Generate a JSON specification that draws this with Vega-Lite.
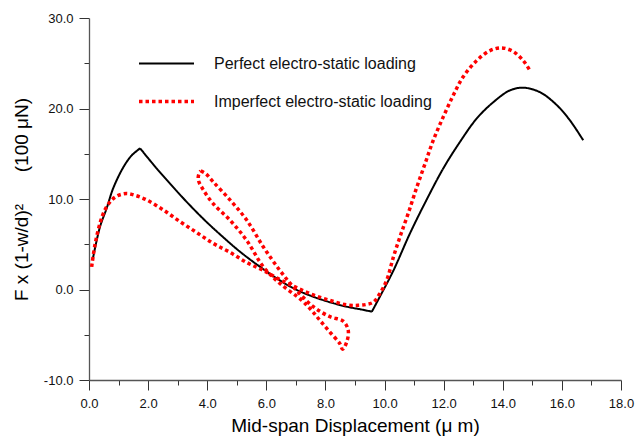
{
  "$schema": "https://vega.github.io/schema/vega-lite/v6.json",
  "width": 532,
  "height": 362,
  "autosize": {"type": "none"},
  "padding": {"left": 89, "top": 18, "right": 14, "bottom": 59},
  "background": "white",
  "config": {
    "view": {"stroke": null},
    "font": "Liberation Sans",
    "legend": {
      "orient": "none",
      "legendX": 48,
      "legendY": 17,
      "padding": 0,
      "symbolType": "stroke",
      "symbolSize": 3025,
      "labelFontSize": 16,
      "labelFont": "Liberation Sans",
      "labelColor": "#111111",
      "labelOffset": 18,
      "rowPadding": -2,
      "labelLimit": 400
    }
  },
  "datasets": {
    "curves": [
      {"series": "Perfect electro-static loading", "seg": "p1", "o": 1, "x": 0.13, "y": 3.4},
      {"series": "Perfect electro-static loading", "seg": "p1", "o": 2, "x": 0.37, "y": 6.9},
      {"series": "Perfect electro-static loading", "seg": "p1", "o": 3, "x": 0.6, "y": 9.0},
      {"series": "Perfect electro-static loading", "seg": "p1", "o": 4, "x": 0.82, "y": 11.2},
      {"series": "Perfect electro-static loading", "seg": "p1", "o": 5, "x": 1.16, "y": 13.5},
      {"series": "Perfect electro-static loading", "seg": "p1", "o": 6, "x": 1.44, "y": 14.8},
      {"series": "Perfect electro-static loading", "seg": "p1", "o": 7, "x": 1.73, "y": 15.6},
      {"series": "Perfect electro-static loading", "seg": "p2", "o": 7, "x": 1.73, "y": 15.6},
      {"series": "Perfect electro-static loading", "seg": "p2", "o": 8, "x": 2.18, "y": 13.8},
      {"series": "Perfect electro-static loading", "seg": "p2", "o": 9, "x": 2.74, "y": 11.7},
      {"series": "Perfect electro-static loading", "seg": "p2", "o": 10, "x": 3.3, "y": 9.7},
      {"series": "Perfect electro-static loading", "seg": "p2", "o": 11, "x": 3.87, "y": 7.8},
      {"series": "Perfect electro-static loading", "seg": "p2", "o": 12, "x": 4.43, "y": 6.1},
      {"series": "Perfect electro-static loading", "seg": "p2", "o": 13, "x": 5.1, "y": 4.2},
      {"series": "Perfect electro-static loading", "seg": "p2", "o": 14, "x": 5.79, "y": 2.5},
      {"series": "Perfect electro-static loading", "seg": "p2", "o": 15, "x": 6.46, "y": 1.0},
      {"series": "Perfect electro-static loading", "seg": "p2", "o": 16, "x": 7.0, "y": 0.0},
      {"series": "Perfect electro-static loading", "seg": "p2", "o": 17, "x": 7.59, "y": -0.8},
      {"series": "Perfect electro-static loading", "seg": "p2", "o": 18, "x": 8.15, "y": -1.4},
      {"series": "Perfect electro-static loading", "seg": "p2", "o": 19, "x": 8.72, "y": -1.9},
      {"series": "Perfect electro-static loading", "seg": "p2", "o": 20, "x": 9.2, "y": -2.2},
      {"series": "Perfect electro-static loading", "seg": "p2", "o": 21, "x": 9.57, "y": -2.45},
      {"series": "Perfect electro-static loading", "seg": "p3", "o": 21, "x": 9.57, "y": -2.45},
      {"series": "Perfect electro-static loading", "seg": "p3", "o": 22, "x": 9.84, "y": -0.8},
      {"series": "Perfect electro-static loading", "seg": "p3", "o": 23, "x": 10.3, "y": 2.1},
      {"series": "Perfect electro-static loading", "seg": "p3", "o": 24, "x": 10.86, "y": 6.2},
      {"series": "Perfect electro-static loading", "seg": "p3", "o": 25, "x": 11.42, "y": 9.9},
      {"series": "Perfect electro-static loading", "seg": "p3", "o": 26, "x": 11.99, "y": 13.4},
      {"series": "Perfect electro-static loading", "seg": "p3", "o": 27, "x": 12.55, "y": 16.3},
      {"series": "Perfect electro-static loading", "seg": "p3", "o": 28, "x": 13.12, "y": 18.9},
      {"series": "Perfect electro-static loading", "seg": "p3", "o": 29, "x": 13.68, "y": 20.7},
      {"series": "Perfect electro-static loading", "seg": "p3", "o": 30, "x": 14.24, "y": 22.0},
      {"series": "Perfect electro-static loading", "seg": "p3", "o": 31, "x": 14.69, "y": 22.3},
      {"series": "Perfect electro-static loading", "seg": "p3", "o": 32, "x": 15.26, "y": 21.8},
      {"series": "Perfect electro-static loading", "seg": "p3", "o": 33, "x": 15.82, "y": 20.4},
      {"series": "Perfect electro-static loading", "seg": "p3", "o": 34, "x": 16.27, "y": 18.7},
      {"series": "Perfect electro-static loading", "seg": "p3", "o": 35, "x": 16.72, "y": 16.5},

      {"series": "Imperfect electro-static loading", "seg": "a", "o": 1, "x": 0.09, "y": 2.5},
      {"series": "Imperfect electro-static loading", "seg": "a", "o": 2, "x": 0.2, "y": 4.9},
      {"series": "Imperfect electro-static loading", "seg": "a", "o": 3, "x": 0.37, "y": 7.3},
      {"series": "Imperfect electro-static loading", "seg": "a", "o": 4, "x": 0.54, "y": 8.8},
      {"series": "Imperfect electro-static loading", "seg": "a", "o": 5, "x": 0.77, "y": 9.9},
      {"series": "Imperfect electro-static loading", "seg": "a", "o": 6, "x": 0.99, "y": 10.4},
      {"series": "Imperfect electro-static loading", "seg": "a", "o": 7, "x": 1.27, "y": 10.6},
      {"series": "Imperfect electro-static loading", "seg": "a", "o": 8, "x": 1.56, "y": 10.4},
      {"series": "Imperfect electro-static loading", "seg": "a", "o": 9, "x": 1.95, "y": 9.9},
      {"series": "Imperfect electro-static loading", "seg": "a", "o": 10, "x": 2.51, "y": 8.8},
      {"series": "Imperfect electro-static loading", "seg": "a", "o": 11, "x": 3.08, "y": 7.5},
      {"series": "Imperfect electro-static loading", "seg": "a", "o": 12, "x": 3.64, "y": 6.3},
      {"series": "Imperfect electro-static loading", "seg": "a", "o": 13, "x": 4.2, "y": 5.1},
      {"series": "Imperfect electro-static loading", "seg": "a", "o": 14, "x": 4.77, "y": 4.1},
      {"series": "Imperfect electro-static loading", "seg": "a", "o": 15, "x": 5.33, "y": 3.0},
      {"series": "Imperfect electro-static loading", "seg": "a", "o": 16, "x": 5.9, "y": 2.1},
      {"series": "Imperfect electro-static loading", "seg": "a", "o": 17, "x": 6.46, "y": 1.1},
      {"series": "Imperfect electro-static loading", "seg": "a", "o": 18, "x": 7.03, "y": 0.2},
      {"series": "Imperfect electro-static loading", "seg": "a", "o": 19, "x": 7.59, "y": -0.6},
      {"series": "Imperfect electro-static loading", "seg": "a", "o": 20, "x": 8.15, "y": -1.2},
      {"series": "Imperfect electro-static loading", "seg": "a", "o": 21, "x": 8.72, "y": -1.7},
      {"series": "Imperfect electro-static loading", "seg": "a", "o": 22, "x": 9.1, "y": -1.75},
      {"series": "Imperfect electro-static loading", "seg": "a", "o": 23, "x": 9.39, "y": -1.65},
      {"series": "Imperfect electro-static loading", "seg": "a", "o": 24, "x": 9.62, "y": -1.4},
      {"series": "Imperfect electro-static loading", "seg": "a", "o": 25, "x": 9.84, "y": -0.45},
      {"series": "Imperfect electro-static loading", "seg": "a", "o": 26, "x": 10.07, "y": 1.0},
      {"series": "Imperfect electro-static loading", "seg": "a", "o": 27, "x": 10.3, "y": 3.6},
      {"series": "Imperfect electro-static loading", "seg": "a", "o": 28, "x": 10.52, "y": 5.8},
      {"series": "Imperfect electro-static loading", "seg": "a", "o": 29, "x": 10.8, "y": 8.4},
      {"series": "Imperfect electro-static loading", "seg": "a", "o": 30, "x": 11.09, "y": 11.3},
      {"series": "Imperfect electro-static loading", "seg": "a", "o": 31, "x": 11.37, "y": 13.9},
      {"series": "Imperfect electro-static loading", "seg": "a", "o": 32, "x": 11.65, "y": 16.5},
      {"series": "Imperfect electro-static loading", "seg": "a", "o": 33, "x": 11.99, "y": 19.1},
      {"series": "Imperfect electro-static loading", "seg": "a", "o": 34, "x": 12.33, "y": 21.5},
      {"series": "Imperfect electro-static loading", "seg": "a", "o": 35, "x": 12.66, "y": 23.5},
      {"series": "Imperfect electro-static loading", "seg": "a", "o": 36, "x": 13.12, "y": 25.3},
      {"series": "Imperfect electro-static loading", "seg": "a", "o": 37, "x": 13.57, "y": 26.4},
      {"series": "Imperfect electro-static loading", "seg": "a", "o": 38, "x": 13.96, "y": 26.7},
      {"series": "Imperfect electro-static loading", "seg": "a", "o": 39, "x": 14.35, "y": 26.3},
      {"series": "Imperfect electro-static loading", "seg": "a", "o": 40, "x": 14.69, "y": 25.3},
      {"series": "Imperfect electro-static loading", "seg": "a", "o": 41, "x": 14.92, "y": 24.2},

      {"series": "Imperfect electro-static loading", "seg": "b", "o": 1, "x": 3.78, "y": 13.1},
      {"series": "Imperfect electro-static loading", "seg": "b", "o": 2, "x": 3.95, "y": 12.8},
      {"series": "Imperfect electro-static loading", "seg": "b", "o": 3, "x": 4.2, "y": 11.9},
      {"series": "Imperfect electro-static loading", "seg": "b", "o": 4, "x": 4.77, "y": 9.9},
      {"series": "Imperfect electro-static loading", "seg": "b", "o": 5, "x": 5.33, "y": 7.7},
      {"series": "Imperfect electro-static loading", "seg": "b", "o": 6, "x": 5.9, "y": 4.7},
      {"series": "Imperfect electro-static loading", "seg": "b", "o": 7, "x": 6.46, "y": 2.1},
      {"series": "Imperfect electro-static loading", "seg": "b", "o": 8, "x": 6.91, "y": 0.3},
      {"series": "Imperfect electro-static loading", "seg": "b", "o": 9, "x": 7.59, "y": -1.9},
      {"series": "Imperfect electro-static loading", "seg": "b", "o": 10, "x": 8.15, "y": -3.0},
      {"series": "Imperfect electro-static loading", "seg": "b", "o": 11, "x": 8.6, "y": -3.5},
      {"series": "Imperfect electro-static loading", "seg": "b", "o": 12, "x": 8.77, "y": -4.5},
      {"series": "Imperfect electro-static loading", "seg": "b", "o": 13, "x": 8.72, "y": -5.8},
      {"series": "Imperfect electro-static loading", "seg": "b", "o": 14, "x": 8.58, "y": -6.6},
      {"series": "Imperfect electro-static loading", "seg": "b", "o": 15, "x": 8.49, "y": -6.0},
      {"series": "Imperfect electro-static loading", "seg": "b", "o": 16, "x": 8.15, "y": -4.7},
      {"series": "Imperfect electro-static loading", "seg": "b", "o": 17, "x": 7.81, "y": -3.4},
      {"series": "Imperfect electro-static loading", "seg": "b", "o": 18, "x": 7.53, "y": -2.3},
      {"series": "Imperfect electro-static loading", "seg": "b", "o": 19, "x": 7.2, "y": -1.2},
      {"series": "Imperfect electro-static loading", "seg": "b", "o": 20, "x": 6.46, "y": 0.66},
      {"series": "Imperfect electro-static loading", "seg": "b", "o": 21, "x": 5.9, "y": 2.5},
      {"series": "Imperfect electro-static loading", "seg": "b", "o": 22, "x": 5.33, "y": 5.45},
      {"series": "Imperfect electro-static loading", "seg": "b", "o": 23, "x": 4.77, "y": 7.66},
      {"series": "Imperfect electro-static loading", "seg": "b", "o": 24, "x": 4.2, "y": 9.5},
      {"series": "Imperfect electro-static loading", "seg": "b", "o": 25, "x": 3.87, "y": 11.0},
      {"series": "Imperfect electro-static loading", "seg": "b", "o": 26, "x": 3.7, "y": 12.1},
      {"series": "Imperfect electro-static loading", "seg": "b", "o": 27, "x": 3.72, "y": 12.8},
      {"series": "Imperfect electro-static loading", "seg": "b", "o": 28, "x": 3.78, "y": 13.1}
    ]
  },
  "data": {"name": "curves"},
  "mark": {"type": "line", "interpolate": "catmull-rom", "strokeCap": "butt", "strokeJoin": "round"},
  "encoding": {
    "x": {
      "field": "x",
      "type": "quantitative",
      "scale": {"domain": [0, 18], "nice": false, "zero": false},
      "axis": {
        "values": [0,1,2,3,4,5,6,7,8,9,10,11,12,13,14,15,16,17,18],
        "labelExpr": "datum.value % 2 === 0 ? format(datum.value, '.1f') : ''",
        "grid": false,
        "title": "Mid-span Displacement (μ m)",
        "titleFont": "Liberation Sans",
        "titleFontSize": 19,
        "titleFontWeight": "normal",
        "titleColor": "#000000",
        "titlePadding": 6,
        "labelFont": "Liberation Sans",
        "labelFontSize": 13,
        "labelColor": "#111111",
        "labelPadding": 7,
        "labelFlush": false,
        "labelOverlap": false,
        "tickSize": {"condition": {"test": "datum.value % 2 === 0", "value": 10}, "value": 5},
        "tickColor": "#333333",
        "tickWidth": 1,
        "domainColor": "#555555",
        "domainWidth": 1.3
      }
    },
    "y": {
      "field": "y",
      "type": "quantitative",
      "scale": {"domain": [-10, 30], "nice": false, "zero": false},
      "axis": {
        "values": [-10,-5,0,5,10,15,20,25,30],
        "labelExpr": "datum.value % 10 === 0 ? (datum.value < 0 ? '-' + format(-datum.value, '.1f') : format(datum.value, '.1f')) : ''",
        "grid": false,
        "title": "F x (1-w/d)²\u00a0\u00a0\u00a0\u00a0\u00a0\u00a0(100 μN)",
        "titleFont": "Liberation Sans",
        "titleFontSize": 19,
        "titleFontWeight": "normal",
        "titleColor": "#000000",
        "titlePadding": 12,
        "labelFont": "Liberation Sans",
        "labelFontSize": 13,
        "labelColor": "#111111",
        "labelPadding": 6,
        "labelFlush": false,
        "labelOverlap": false,
        "tickSize": {"condition": {"test": "datum.value % 10 === 0", "value": 10}, "value": 5},
        "tickColor": "#333333",
        "tickWidth": 1,
        "domainColor": "#555555",
        "domainWidth": 1.3
      }
    },
    "color": {
      "field": "series",
      "type": "nominal",
      "scale": {"domain": ["Perfect electro-static loading", "Imperfect electro-static loading"], "range": ["#000000", "#ff0000"]},
      "legend": {"title": null}
    },
    "strokeDash": {
      "field": "series",
      "type": "nominal",
      "scale": {"domain": ["Perfect electro-static loading", "Imperfect electro-static loading"], "range": [[1, 0], [3.5, 3]]},
      "legend": {"title": null}
    },
    "strokeWidth": {
      "field": "series",
      "type": "nominal",
      "scale": {"domain": ["Perfect electro-static loading", "Imperfect electro-static loading"], "range": [2, 3.5]},
      "legend": {"title": null}
    },
    "detail": {"field": "seg", "type": "nominal"},
    "order": {"field": "o", "type": "quantitative"}
  }
}
